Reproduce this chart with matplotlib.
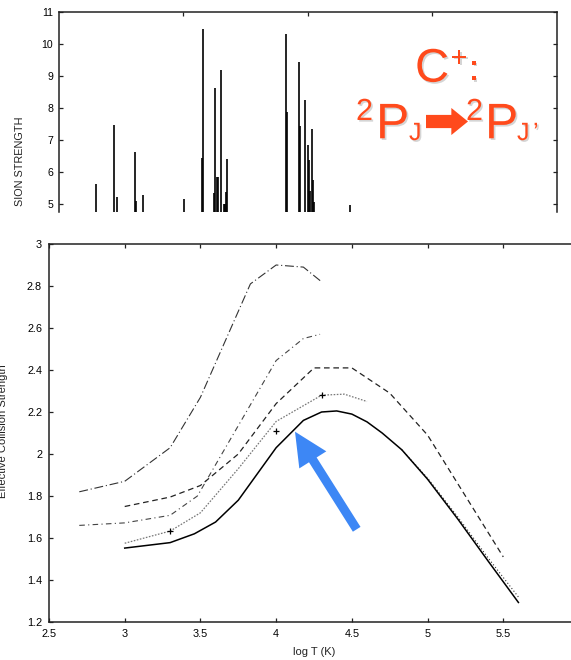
import matplotlib
matplotlib.use("Agg")
import matplotlib.pyplot as plt
from matplotlib.patches import FancyArrowPatch
import matplotlib.patheffects as pe

plt.rcParams['font.family'] = ['Liberation Sans', 'DejaVu Sans']

# ---------------- data ----------------
# top panel: resonance spikes (energy position, collision strength)
res_x = [0.297, 0.444, 0.468, 0.613, 0.621, 0.680, 1.009, 1.151, 1.159, 1.250,
         1.258, 1.271, 1.280, 1.301, 1.325, 1.333, 1.341, 1.352, 1.823, 1.834,
         1.928, 1.936, 1.976, 2.000, 2.013, 2.021, 2.032, 2.043, 2.048, 2.340]
res_y = [5.63, 7.47, 5.23, 6.63, 5.09, 5.29, 5.16, 6.45, 10.47, 5.33,
         8.61, 5.83, 5.83, 9.19, 5.00, 5.00, 5.38, 6.41, 10.31, 7.88,
         9.45, 7.44, 8.25, 6.84, 6.38, 5.42, 7.34, 5.75, 5.07, 4.97]
top_yticks = [5, 6, 7, 8, 9, 10, 11]

# bottom panel: effective collision strength vs log T
dd1_x = [2.7, 3.0, 3.3, 3.5, 3.83, 4.0, 4.18, 4.3]
dd1_y = [1.82, 1.87, 2.03, 2.27, 2.81, 2.90, 2.89, 2.82]

dd2_x = [2.7, 3.0, 3.3, 3.48, 4.0, 4.18, 4.29]
dd2_y = [1.66, 1.672, 1.708, 1.80, 2.445, 2.55, 2.57]

dash_x = [3.0, 3.3, 3.5, 3.75, 4.0, 4.25, 4.5, 4.75, 5.0, 5.5]
dash_y = [1.75, 1.795, 1.85, 2.0, 2.24, 2.41, 2.41, 2.29, 2.09, 1.51]

dot_x = [3.0, 3.3, 3.5, 3.75, 4.0, 4.3, 4.45, 4.6]
dot_y = [1.575, 1.633, 1.72, 1.93, 2.155, 2.28, 2.285, 2.25]

solid_x = [3.0, 3.3, 3.46, 3.6, 3.75, 4.0, 4.18, 4.3, 4.4, 4.5, 4.6, 4.7, 4.83,
           5.0, 5.2, 5.4, 5.6]
solid_y = [1.552, 1.578, 1.62, 1.676, 1.78, 2.03, 2.16, 2.20, 2.205, 2.19, 2.153,
           2.10, 2.02, 1.88, 1.69, 1.49, 1.293]

dotb_x = [4.83, 5.0, 5.2, 5.4, 5.6]
dotb_y = [2.02, 1.885, 1.70, 1.505, 1.319]

plus_x = [3.3, 4.0, 4.3]
plus_y = [1.633, 2.11, 2.28]

bot_xticks = [2.5, 3, 3.5, 4, 4.5, 5, 5.5]
bot_yticks = [1.2, 1.4, 1.6, 1.8, 2, 2.2, 2.4, 2.6, 2.8, 3]

# ---------------- figure ----------------
W, H = 571, 660
fig = plt.figure(figsize=(W / 100, H / 100), dpi=100)


def fx(px):
    return px / W


def fy(py):
    return 1 - py / H


spine_c = '#222222'

# top panel
axt = fig.add_axes([fx(58.7), fy(212), (556.7 - 58.7) / W, (212 - 12) / H])
axt.vlines(res_x, 0, res_y, color='black', lw=1.2)
axt.set_xlim(0, 4)
axt.set_ylim(4.75, 11)
axt.set_yticks(top_yticks)
axt.set_xticks([1, 2, 3])
axt.tick_params(axis='both', direction='in', length=3, width=0.9, color=spine_c,
                labelsize=7.6, pad=4, right=True, top=True, bottom=False,
                labelbottom=False)
for s in ['top', 'left', 'right']:
    axt.spines[s].set_color(spine_c)
    axt.spines[s].set_linewidth(1.1)
axt.spines['bottom'].set_visible(False)
fig.text(fx(20.5), fy(117), 'SION STRENGTH', rotation=90, ha='center', va='top',
         fontsize=7.8, color='#222222')

# bottom panel
axb = fig.add_axes([fx(49), fy(622), (579 - 49) / W, (622 - 244) / H])
axb.plot(dd1_x, dd1_y, color='#333333', lw=0.8, ls=(0, (8, 2.5, 1, 2.5)))
axb.plot(dd2_x, dd2_y, color='#444444', lw=0.8, ls=(0, (5, 3, 1, 3)))
axb.plot(dash_x, dash_y, color='#222222', lw=0.9, ls=(0, (4.5, 3)))
axb.plot(dot_x, dot_y, color='#777777', lw=0.9, ls=(0, (1.3, 1.2)))
axb.plot(dotb_x, dotb_y, color='#333333', lw=0.8, ls=(0, (1, 2)))
axb.plot(solid_x, solid_y, color='black', lw=1.1)
axb.plot(plus_x, plus_y, ls='none', marker='+', color='black', ms=5, mew=0.9)
axb.set_xlim(2.5, 6.0)
axb.set_ylim(1.2, 3.0)
axb.set_xticks(bot_xticks)
axb.set_xticklabels([str(t) for t in bot_xticks])
axb.set_yticks(bot_yticks)
axb.set_yticklabels([('%g' % t) for t in bot_yticks])
axb.tick_params(axis='both', direction='in', length=3, width=0.9, color=spine_c,
                labelsize=7.8, pad=5, top=True)
for s in ['top', 'left', 'bottom', 'right']:
    axb.spines[s].set_color(spine_c)
    axb.spines[s].set_linewidth(1.1)
axb.set_xlabel('log T (K)', fontsize=8, labelpad=6, color='#222222')
fig.text(fx(3.5), fy(431), 'Effective Collision Strength', rotation=90, ha='center',
         va='center', fontsize=8, color='#222222')

# blue annotation arrow (figure pixel coords)
blue = FancyArrowPatch((fx(356.7), fy(529.3)), (fx(295), fy(431.7)),
                       transform=fig.transFigure,
                       arrowstyle='simple,head_length=24,head_width=23,tail_width=6.5',
                       mutation_scale=1, color='#3d87f5', lw=0, shrinkA=0, shrinkB=0)
fig.add_artist(blue)

# orange label
orange = '#ff4a1c'
shadow = [pe.withSimplePatchShadow(offset=(1.2, -1.2), shadow_rgbFace='#888888', alpha=0.35)]


def otext(px, py, s, size):
    fig.text(fx(px), fy(py), s, fontsize=size, color=orange, ha='left', va='baseline',
             path_effects=shadow)


otext(415, 81.7, 'C', 34)
otext(451, 66, '+', 20)
otext(469, 80, ':', 26)
otext(356, 120, '2', 22)
otext(376, 138.3, 'P', 36)
otext(409, 140, 'J', 18)
otext(466, 120, '2', 22)
otext(485, 138.3, 'P', 36)
otext(517, 140, 'J', 18)
otext(533, 140, '\u2019', 18)

arr = FancyArrowPatch((fx(426), fy(121.5)), (fx(468), fy(121.5)),
                      transform=fig.transFigure,
                      arrowstyle='simple,head_length=12,head_width=19.5,tail_width=9.5',
                      mutation_scale=1, color=orange, lw=0, shrinkA=0, shrinkB=0,
                      capstyle='round')
fig.add_artist(arr)

fig.savefig('out.png', dpi=100)
